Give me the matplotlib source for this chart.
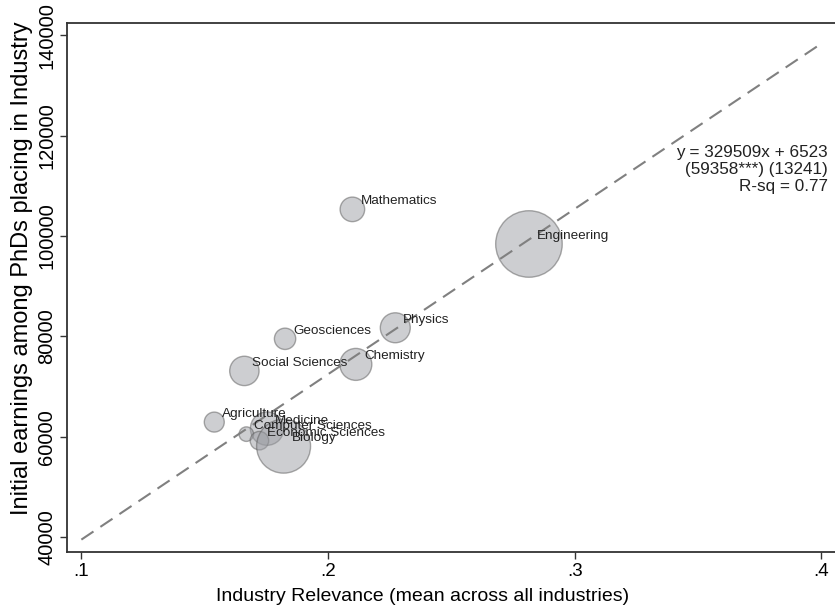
import numpy as np
import matplotlib
matplotlib.use("Agg")
import matplotlib.pyplot as plt

plt.rcParams['font.family'] = ['Liberation Sans', 'DejaVu Sans']

# Field-level data: industry relevance, initial earnings, marker weight
fields = ["Mathematics", "Engineering", "Physics", "Geosciences", "Chemistry",
          "Social Sciences", "Agriculture", "Medicine", "Computer Sciences",
          "Economic Sciences", "Biology"]
relevance = [0.2099, 0.2815, 0.2273, 0.1826, 0.2113,
             0.1661, 0.1539, 0.1753, 0.1669, 0.1722, 0.1820]
earnings = [105300, 98400, 81700, 79500, 74400,
            73100, 62900, 61600, 60500, 59200, 58100]
weights = [151, 1109, 225, 114, 256, 216, 100, 279, 53, 86, 729]

# fitted line (coef, constant, standard errors, R-squared)
slope, intercept = 329509, 6523
slope_se, intercept_se = 59358, 13241
r_sq = 0.77
fit_range = [0.1, 0.4]

xticks = [0.1, 0.2, 0.3, 0.4]
xtick_labels = [".1", ".2", ".3", ".4"]
yticks = [40000, 60000, 80000, 100000, 120000, 140000]

fig = plt.figure(figsize=(8.35, 6.11), dpi=100)
ax = fig.add_axes([0.0806, 0.0961, 0.9194, 0.8658])

# marker area scales with weight
sizes = np.array(weights) * 2.07
ax.scatter(relevance, earnings, s=sizes, facecolor='#9c9ea4', edgecolor='#5a5a5a',
           linewidth=1.0, alpha=0.5, zorder=2)

fx = np.array(fit_range)
ax.plot(fx, slope * fx + intercept, color='#808080', linewidth=1.5,
        dashes=(7, 4), zorder=3)

for name, x, y in zip(fields, relevance, earnings):
    ax.annotate(name, (x, y), xytext=(5.8, 5.8), textcoords='offset points',
                ha='left', va='center', fontsize=9.7, color='#222222', zorder=4)

fit_lines = [f"y = {slope}x + {intercept}",
             f"({slope_se}***) ({intercept_se})",
             f"R-sq = {r_sq}"]
for line, ypos in zip(fit_lines, [0.755, 0.7228, 0.6907]):
    ax.text(0.991, ypos, line, transform=ax.transAxes, ha='right', va='center',
            fontsize=12.3, color='#222222')

ax.set_xlim(0.0943, 0.4056)
ax.set_ylim(36950, 142390)
ax.set_xticks(xticks)
ax.set_xticklabels(xtick_labels, fontsize=13.5)
ax.set_yticks(yticks)
ax.set_yticklabels([str(v) for v in yticks], rotation=90, va='center', fontsize=14.5)
ax.tick_params(direction='out', length=5, width=1, color='#333333', pad=3)

ax.set_xlabel("Industry Relevance (mean across all industries)", fontsize=14)
ax.xaxis.set_label_coords(0.4633, -0.0845)
ax.xaxis.label.set_va('center')
ax.set_ylabel("Initial earnings among PhDs placing in Industry", fontsize=17)
ax.yaxis.set_label_coords(-0.059, 0.5375)
ax.yaxis.label.set_va('center')

for side in ['left', 'bottom', 'top']:
    ax.spines[side].set_color('#333333')
    ax.spines[side].set_linewidth(1.3)
ax.spines['right'].set_visible(False)

fig.savefig("out.png", dpi=100)
